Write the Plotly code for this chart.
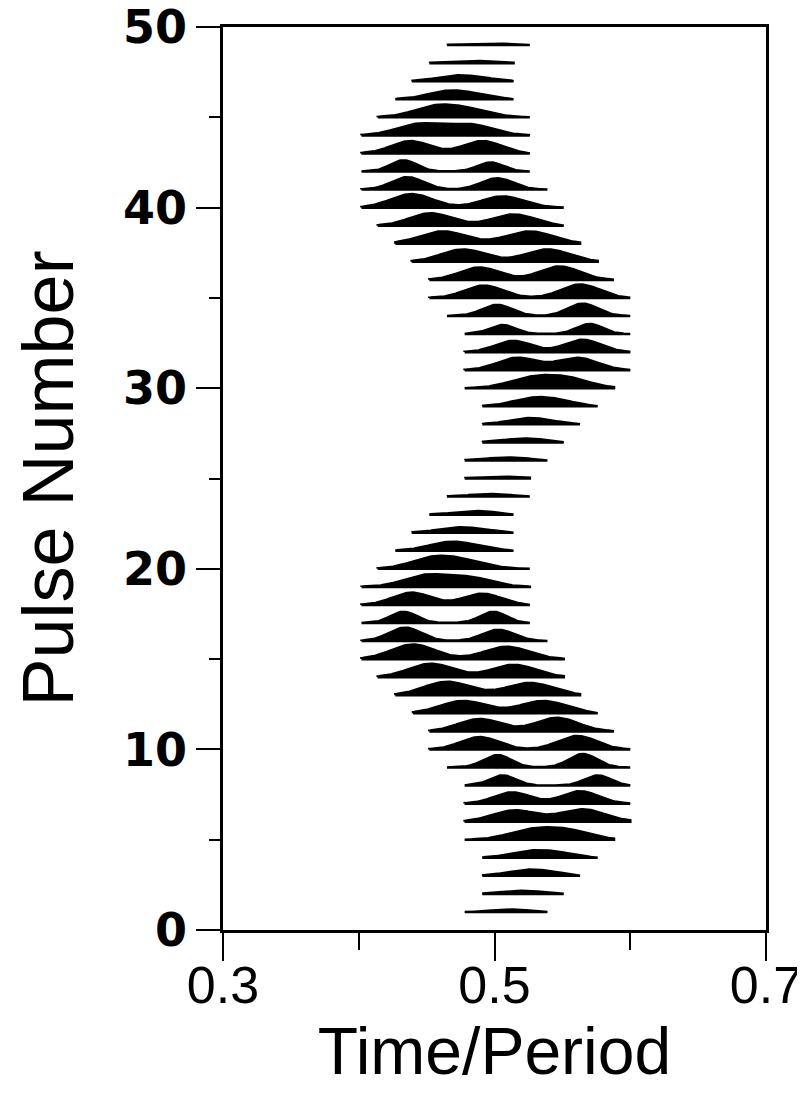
import numpy as np
import plotly.graph_objects as go

# ---- data (pulse stack) ----
pulse_number = list(range(1, 50))
# on-pulse window (Time/Period) of each pulse's baseline
win_start = [0.478, 0.491, 0.491, 0.491, 0.478, 0.478, 0.478, 0.478, 0.465, 0.452,
             0.452, 0.440, 0.427, 0.414, 0.402, 0.402, 0.402, 0.402, 0.402, 0.414,
             0.427, 0.439, 0.452, 0.465, 0.478, 0.478, 0.491, 0.491, 0.491, 0.478,
             0.478, 0.478, 0.478, 0.465, 0.452, 0.452, 0.439, 0.427, 0.414, 0.402,
             0.402, 0.402, 0.402, 0.402, 0.414, 0.427, 0.439, 0.452, 0.465]
win_end = [0.539, 0.551, 0.563, 0.576, 0.588, 0.600, 0.600, 0.600, 0.600, 0.600,
           0.588, 0.576, 0.563, 0.551, 0.551, 0.539, 0.526, 0.526, 0.526, 0.526,
           0.514, 0.514, 0.514, 0.526, 0.526, 0.539, 0.551, 0.563, 0.576, 0.588,
           0.600, 0.600, 0.600, 0.600, 0.600, 0.588, 0.576, 0.563, 0.551, 0.551,
           0.539, 0.526, 0.526, 0.526, 0.526, 0.514, 0.514, 0.514, 0.526]
# sub-pulse 1: position and intensity
sp1_pos = [0.508, 0.515, 0.519, 0.523, 0.526, 0.515, 0.513, 0.506, 0.502, 0.489,
           0.489, 0.477, 0.465, 0.453, 0.440, 0.434, 0.433, 0.439, 0.449, 0.454,
           0.464, 0.471, 0.482, 0.492, 0.500, 0.504, 0.515, 0.520, 0.525, 0.526,
           0.517, 0.514, 0.506, 0.502, 0.492, 0.489, 0.477, 0.462, 0.453, 0.439,
           0.436, 0.433, 0.438, 0.444, 0.456, 0.464, 0.471, 0.476, 0.487]
sp1_int = [1.5, 2, 3.5, 5, 8, 10, 10, 9, 11, 11,
           11, 11, 12, 12, 13, 12, 10, 11, 10, 9,
           6, 3.5, 2, 1.5, 1, 1.8, 2, 3.5, 5.5, 8.5,
           11, 10, 8, 10, 11, 11, 11, 11, 11, 12,
           11, 10, 11, 10, 9, 6, 4, 1.5, 1]
# sub-pulse 2: position and intensity
sp2_pos = [0.519, 0.530, 0.537, 0.545, 0.554, 0.565, 0.563, 0.576, 0.565, 0.561,
           0.546, 0.536, 0.526, 0.514, 0.509, 0.503, 0.499, 0.491, 0.482, 0.478,
           0.482, 0.488, 0.493, 0.504, 0.511, 0.519, 0.530, 0.535, 0.545, 0.554,
           0.561, 0.565, 0.570, 0.565, 0.563, 0.548, 0.539, 0.526, 0.514, 0.506,
           0.502, 0.497, 0.491, 0.482, 0.481, 0.483, 0.488, 0.493, 0.504]
sp2_int = [1, 1.5, 3.5, 4.5, 8, 11, 11, 9, 12, 12,
           12, 11, 11, 11, 11, 10, 10, 10, 8, 6,
           3.5, 2, 1.5, 1, 0.8, 1.2, 2, 3, 5, 8.5,
           11, 11, 9, 11, 12, 12, 11, 11, 10, 10,
           10, 8, 11, 9.5, 6, 3.5, 2, 1, 0.8]
# sub-pulse width (Time/Period)
sp_width = [0.0110, 0.0110, 0.0133, 0.0133, 0.0162, 0.0162, 0.0133, 0.0096, 0.0103, 0.0140,
            0.0155, 0.0169, 0.0169, 0.0162, 0.0162, 0.0118, 0.0096, 0.0140, 0.0162, 0.0162,
            0.0147, 0.0147, 0.0133, 0.0133, 0.0133, 0.0133, 0.0133, 0.0133, 0.0140, 0.0162,
            0.0147, 0.0133, 0.0096, 0.0110, 0.0140, 0.0147, 0.0162, 0.0169, 0.0155, 0.0155,
            0.0118, 0.0096, 0.0140, 0.0162, 0.0162, 0.0147, 0.0147, 0.0133, 0.0133]

x_ticks = [0.3, 0.5, 0.7]
x_ticklabels = ["0.3", "0.5", "0.7"]
x_minor = [0.4, 0.6]
y_ticks = [0, 10, 20, 30, 40, 50]
y_ticklabels = ["0", "10", "20", "30", "40", "50"]
y_minor = [5, 15, 25, 35, 45]

# display scale: intensity units -> pulse-number units
AMP_SCALE = 0.062

fig = go.Figure()
for i, n in enumerate(pulse_number):
    x = np.linspace(win_start[i], win_end[i], 160)
    s = sp_width[i]
    prof = (sp1_int[i] * np.exp(-0.5 * ((x - sp1_pos[i]) / s) ** 2)
            + sp2_int[i] * np.exp(-0.5 * ((x - sp2_pos[i]) / s) ** 2))
    y = n + AMP_SCALE * prof
    xs = np.concatenate([[win_start[i]], x, [win_end[i], win_start[i]]])
    ys = np.concatenate([[n], y, [n, n]])
    fig.add_trace(go.Scatter(
        x=xs, y=ys, mode="lines", fill="toself",
        fillcolor="black", line=dict(color="black", width=2.6),
        showlegend=False, hoverinfo="skip",
        xaxis="x2" if i == 0 else "x"))

fig.update_layout(
    width=805, height=1096,
    margin=dict(l=215, r=47, t=19, b=174),
    paper_bgcolor="white", plot_bgcolor="white",
    showlegend=False,
    xaxis=dict(
        range=[0.3, 0.7], tickvals=x_ticks, ticktext=x_ticklabels, showticklabels=False,
        ticks="outside", ticklen=28, tickwidth=2, tickcolor="black",
        minor=dict(tickvals=x_minor, ticks="outside", ticklen=17, tickwidth=2, tickcolor="black"),
        showline=True, linecolor="black", linewidth=2.5, mirror=True,
        showgrid=False, zeroline=False, automargin=False,
    ),
    xaxis2=dict(
        range=[0.3, 0.7], tickvals=x_ticks, ticktext=x_ticklabels,
        overlaying="x", anchor="y", side="bottom",
        ticks="", showline=False, showgrid=False, zeroline=False, automargin=False,
        ticklabelstandoff=20, ticklabeloverflow="allow",
        tickfont=dict(family="Liberation Sans, Arial", size=52, color="black"),
        title=dict(text="Time/Period", font=dict(family="Liberation Sans, Arial", size=66, color="black"),
                   standoff=8),
    ),
    yaxis=dict(
        range=[0, 50], tickvals=y_ticks, ticktext=y_ticklabels,
        ticks="outside", ticklen=24, tickwidth=2, tickcolor="black",
        minor=dict(tickvals=y_minor, ticks="outside", ticklen=11, tickwidth=2, tickcolor="black"),
        showline=True, linecolor="black", linewidth=2.5, mirror=True,
        showgrid=False, zeroline=False, automargin=False, ticklabeloverflow="allow",
        tickfont=dict(family="DejaVu Sans", size=46, color="black", weight="bold"),
        title=dict(text="Pulse Number", font=dict(family="Liberation Sans, Arial", size=72, color="black"),
                   standoff=56),
    ),
)

fig.write_html("out.html")
